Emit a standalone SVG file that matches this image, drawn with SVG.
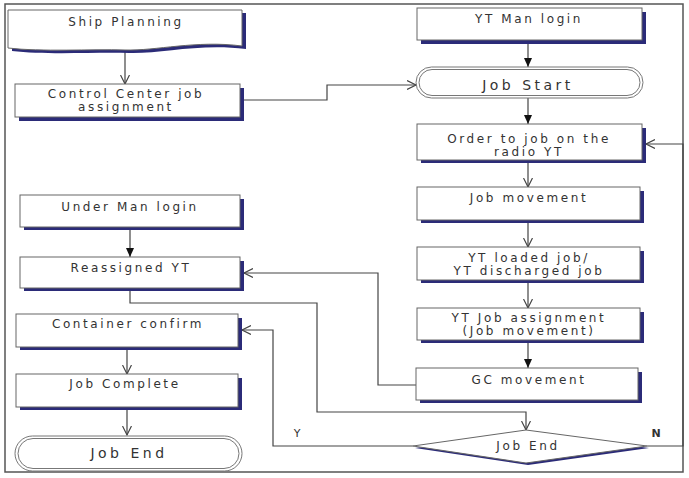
<svg xmlns="http://www.w3.org/2000/svg" width="689" height="478" viewBox="0 0 689 478">
<defs>
<style>
.sh{fill:#2b2b78}
.bx{fill:#fff;stroke:#666;stroke-width:1}
.t{font-family:"DejaVu Sans","Liberation Sans",Arial,sans-serif;font-size:12px;letter-spacing:2.6px;fill:#333;text-anchor:middle}
.tb{font-family:"DejaVu Sans","Liberation Sans",Arial,sans-serif;font-size:14px;letter-spacing:3.5px;fill:#333;text-anchor:middle}
.term{fill:#fff;stroke:#777;stroke-width:1}
.c{fill:none;stroke:#444;stroke-width:1.2}
.lbl{font-family:"DejaVu Sans","Liberation Sans",Arial,sans-serif;font-size:11px;fill:#333}
</style>
<marker id="open" markerUnits="userSpaceOnUse" markerWidth="12" markerHeight="10" refX="9" refY="5" orient="auto">
<path d="M0,0.5 L9,5 L0,9.5" fill="none" stroke="#444" stroke-width="1.2"/>
</marker>
<marker id="fill" markerUnits="userSpaceOnUse" markerWidth="12" markerHeight="10" refX="9" refY="5" orient="auto">
<path d="M0,1 L9,5 L0,9 z" fill="#111"/>
</marker>
</defs>
<rect x="5" y="4" width="678" height="468" fill="#fff" stroke="#555" stroke-width="1.5"/>

<g id="connectors">
<path class="c" d="M125,50 V84" marker-end="url(#open)"/>
<path class="c" d="M244,100 H327 V85 H416" marker-end="url(#open)"/>
<path class="c" d="M528,44 V67" marker-end="url(#fill)"/>
<path class="c" d="M528,98 V124" marker-end="url(#fill)"/>
<path class="c" d="M528,163 V187" marker-end="url(#open)"/>
<path class="c" d="M528,223 V247" marker-end="url(#open)"/>
<path class="c" d="M528,283 V308" marker-end="url(#open)"/>
<path class="c" d="M528,343 V368" marker-end="url(#fill)"/>
<path class="c" d="M416,385 H378 V273 H244" marker-end="url(#open)"/>
<path class="c" d="M130,291 V303 H317 V412 H526 V430" marker-end="url(#open)"/>
<path class="c" d="M413,446 H273 V330 H242" marker-end="url(#open)"/>
<path class="c" d="M647,446 H683 V144 H646" marker-end="url(#open)"/>
<path class="c" d="M130,230 V257" marker-end="url(#fill)"/>
<path class="c" d="M127,350 V374" marker-end="url(#open)"/>
<path class="c" d="M127,410 V435" marker-end="url(#open)"/>
<text class="lbl" x="297" y="437" text-anchor="middle">Y</text>
<text class="lbl" x="656" y="437" text-anchor="middle" font-weight="bold">N</text>
</g>

<g id="ship-planning">
<path class="sh" d="M12,13 H246 V49 C200,43 160,54 129,53 C95,52 45,55 12,51 Z"/>
<path class="bx" d="M8,10 H242 V46 C196,40 156,51 125,50 C91,49 41,52 8,48 Z"/>
<text class="t" x="126" y="26">Ship Planning</text>
</g>

<g id="control-center">
<rect class="sh" x="19" y="88" width="225" height="33"/>
<rect class="bx" x="15" y="84" width="225" height="33"/>
<text class="t" x="126" y="98">Control Center job</text>
<text class="t" x="126" y="111">assignment</text>
</g>

<g id="yt-man-login">
<rect class="sh" x="421" y="12" width="225" height="32"/>
<rect class="bx" x="417" y="8" width="225" height="32"/>
<text class="t" x="529" y="23">YT Man login</text>
</g>

<g id="job-start">
<rect class="term" x="416" y="67" width="227" height="31" rx="15.5"/>
<rect class="term" x="419" y="69.5" width="221" height="26" rx="13"/>
<text class="tb" x="528" y="90">Job Start</text>
</g>

<g id="order-radio">
<rect class="sh" x="421" y="128" width="225" height="35"/>
<rect class="bx" x="417" y="124" width="225" height="36"/>
<text class="t" x="529" y="143">Order to job on the</text>
<text class="t" x="529" y="156">radio YT</text>
</g>

<g id="job-movement">
<rect class="sh" x="421" y="191" width="223" height="32"/>
<rect class="bx" x="417" y="187" width="223" height="33"/>
<text class="t" x="529" y="202">Job movement</text>
</g>

<g id="yt-loaded">
<rect class="sh" x="421" y="251" width="223" height="32"/>
<rect class="bx" x="417" y="247" width="223" height="33"/>
<text class="t" x="529" y="262">YT loaded job/</text>
<text class="t" x="529" y="275">YT discharged job</text>
</g>

<g id="yt-job-assignment">
<rect class="sh" x="421" y="312" width="223" height="31"/>
<rect class="bx" x="417" y="308" width="223" height="32"/>
<text class="t" x="529" y="322">YT Job assignment</text>
<text class="t" x="529" y="335">(Job movement)</text>
</g>

<g id="gc-movement">
<rect class="sh" x="420" y="372" width="222" height="31"/>
<rect class="bx" x="416" y="368" width="222" height="32"/>
<text class="t" x="529" y="384">GC movement</text>
</g>

<g id="job-end-decision">
<polygon class="sh" points="415,448 528,432 649,448 528,465"/>
<polygon class="bx" points="413,446 526,430 647,446 526,463"/>
<text class="t" x="528" y="450">Job End</text>
</g>

<g id="under-man-login">
<rect class="sh" x="24" y="199" width="220" height="31"/>
<rect class="bx" x="20" y="195" width="220" height="32"/>
<text class="t" x="130" y="211">Under Man login</text>
</g>

<g id="reassigned-yt">
<rect class="sh" x="24" y="261" width="220" height="30"/>
<rect class="bx" x="20" y="257" width="220" height="31"/>
<text class="t" x="131" y="272">Reassigned YT</text>
</g>

<g id="container-confirm">
<rect class="sh" x="20" y="318" width="222" height="32"/>
<rect class="bx" x="16" y="314" width="222" height="33"/>
<text class="t" x="128" y="328">Container confirm</text>
</g>

<g id="job-complete">
<rect class="sh" x="20" y="378" width="222" height="32"/>
<rect class="bx" x="16" y="374" width="222" height="33"/>
<text class="t" x="125" y="388">Job Complete</text>
</g>

<g id="job-end">
<rect class="term" x="15" y="436" width="227" height="35" rx="17.5"/>
<rect class="term" x="18" y="438.5" width="221" height="30" rx="15"/>
<text class="tb" x="129" y="458">Job End</text>
</g>
</svg>
